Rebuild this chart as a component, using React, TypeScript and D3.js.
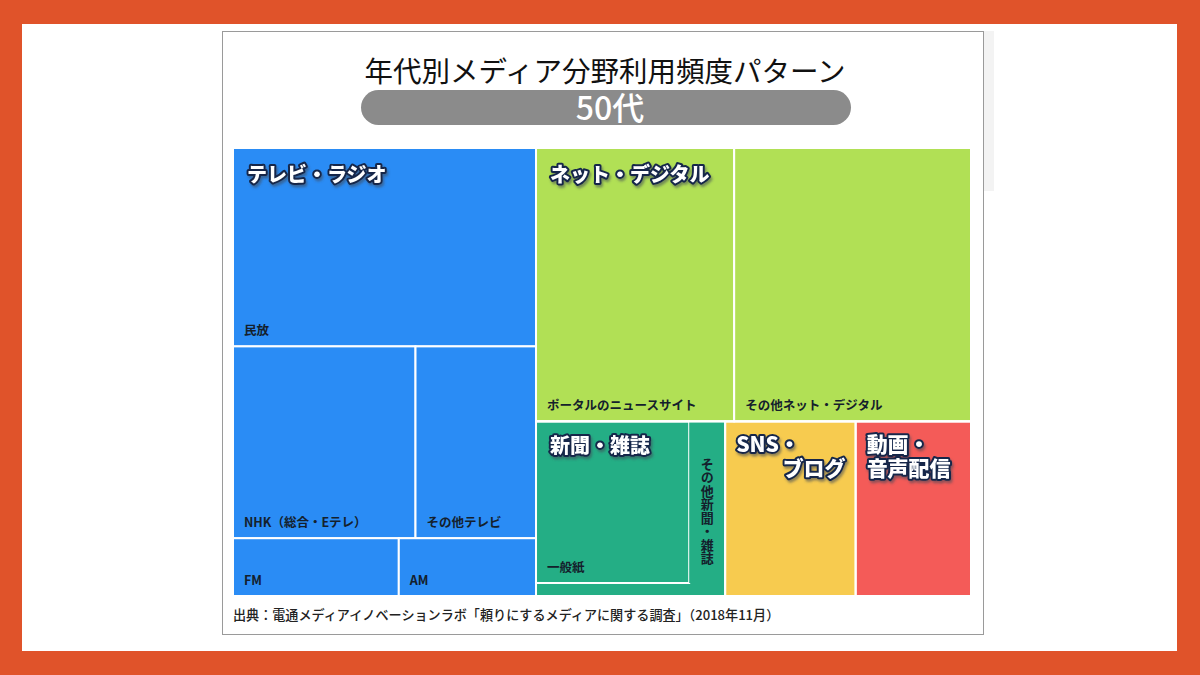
import React from "react";
import * as d3 from "d3";

// ---- data ----
const categories = ["テレビ・ラジオ", "ネット・デジタル", "新聞・雑誌", "SNS・ブログ", "動画・音声配信"];
const categoryLines = [["テレビ・ラジオ"], ["ネット・デジタル"], ["新聞・雑誌"], ["SNS・", "ブログ"], ["動画・", "音声配信"]];
const tvItems = ["民放", "NHK（総合・Eテレ）", "その他テレビ", "FM", "AM"];
const tvValues = [18.2, 10.6, 7.0, 2.9, 2.4];
const tvRows = [[0], [1, 2], [3, 4]];
const netItems = ["ポータルのニュースサイト", "その他ネット・デジタル"];
const netValues = [16.4, 19.6];
const pressItems = ["一般紙", "その他新聞・雑誌"];
const pressValues = [8.1, 1.9];
const snsValue = 6.9;
const videoValue = 6.1;

const titleText = "年代別メディア分野利用頻度パターン";
const subtitleText = "50代";
const sourceText = "出典：電通メディアイノベーションラボ「頼りにするメディアに関する調査」（2018年11月）";

// ---- styles ----
const palette = ["#2a8cf5", "#b1e055", "#24ae85", "#f7cb4f", "#f45b58"];
const JP = "'Noto Sans CJK JP', 'Noto Sans', sans-serif";

const W = 1200, H = 675;
const TM = { x: 233, y: 148, w: 738, h: 448 };

function buildTree() {
  return {
    name: "root",
    children: [
      {
        name: categories[0], cat: 0, dir: "slice",
        children: tvRows.map((row, i) => ({
          name: "tv-row-" + i, cat: 0, dir: "dice",
          children: row.map((j) => ({ name: tvItems[j], cat: 0, value: tvValues[j] })),
        })),
      },
      {
        name: categories[1], cat: 1, dir: "dice",
        children: netItems.map((n, i) => ({ name: n, cat: 1, value: netValues[i] })),
      },
      {
        name: categories[2], cat: 2, dir: "dice",
        children: pressItems.map((n, i) => ({ name: n, cat: 2, value: pressValues[i] })),
      },
      { name: categories[3], cat: 3, value: snsValue },
      { name: categories[4], cat: 4, value: videoValue },
    ],
  };
}

function tile(node: any, x0: number, y0: number, x1: number, y1: number) {
  if (node.depth === 0) d3.treemapSquarify.ratio(1)(node, x0, y0, x1, y1);
  else if (node.data.dir === "slice") d3.treemapSlice(node, x0, y0, x1, y1);
  else d3.treemapDice(node, x0, y0, x1, y1);
}

const verticalLabel = pressItems[1];

function CatLabel({ x, y, text, anchor, size }: any) {
  return (
    <text
      x={x}
      y={y}
      fontFamily={JP}
      fontWeight={900}
      fontSize={size}
      textAnchor={anchor}
      fill="#ffffff"
      stroke="#13264a"
      strokeWidth={4}
      strokeLinejoin="round"
      filter="url(#catShadow)"
      style={{ paintOrder: "stroke" }}
    >
      {text}
    </text>
  );
}

export default function App() {
  const root = d3
    .hierarchy(buildTree() as any)
    .sum((d: any) => d.value || 0);
  d3.treemap()
    .size([TM.w, TM.h])
    .tile(tile as any)
    .paddingBottom((d: any) => (d.data.name === categories[2] ? 13 : 0))(root as any);

  const tops = (root.children || []) as any[];
  const leaves = root.leaves().filter((d: any) => d.depth >= 2) as any[];

  return (
    <svg width={W} height={H} style={{ position: "absolute", left: 0, top: 0 }}>
      <defs>
        <filter id="catShadow" x="-10%" y="-30%" width="130%" height="170%">
          <feDropShadow dx={1.5} dy={2.5} stdDeviation={0.8} floodColor="#3d4a57" floodOpacity={0.55} />
        </filter>
      </defs>
      <rect x={0} y={0} width={W} height={H} fill="#e0532a" />
      <rect x={22} y={24} width={1155} height={627} fill="#ffffff" />
      <rect x={984} y={31} width={10} height={160} fill="#f3f3f3" />
      <rect x={222.5} y={31.5} width={761} height={603} fill="#ffffff" stroke="#9a9a9a" strokeWidth={1} />

      <text x={605} y={82} textAnchor="middle" fontFamily={JP} fontWeight={400} fontSize={28.5} fill="#111">
        {titleText}
      </text>
      <rect x={361} y={90} width={490} height={35} rx={17.5} fill="#8b8b8b" />
      <text x={610} y={119.5} textAnchor="middle" fontFamily={JP} fontWeight={500} fontSize={32} fill="#ffffff">
        {subtitleText}
      </text>

      <g transform={`translate(${TM.x},${TM.y})`}>
        {tops.map((d, i) => (
          <rect key={"f" + i} x={d.x0} y={d.y0} width={d.x1 - d.x0} height={d.y1 - d.y0} fill={palette[d.data.cat]} />
        ))}
        {leaves.map((d, i) => (
          <rect
            key={"l" + i}
            x={d.x0}
            y={d.y0}
            width={d.x1 - d.x0}
            height={d.y1 - d.y0}
            fill={palette[d.data.cat]}
            stroke={d.data.name === verticalLabel ? "none" : "#ffffff"}
            strokeWidth={2}
          />
        ))}
        {tops.map((d, i) => (
          <rect key={"s" + i} x={d.x0} y={d.y0} width={d.x1 - d.x0} height={d.y1 - d.y0} fill="none" stroke="#ffffff" strokeWidth={2} />
        ))}

        {leaves
          .filter((d) => d.data.name !== verticalLabel)
          .map((d, i) => (
            <text key={"t" + i} x={d.x0 + 11} y={d.y1 - 11} fontFamily={JP} fontWeight={700} fontSize={12.5} fill="#14202c">
              {d.data.name}
            </text>
          ))}
        {leaves
          .filter((d) => d.data.name === verticalLabel)
          .map((d, i) => (
            <text
              key={"v" + i}
              x={(d.x0 + d.x1) / 2}
              y={d.y0 + 36}
              fontFamily={JP}
              fontWeight={700}
              fontSize={13}
              letterSpacing={0.5}
              fill="#14202c"
              style={{ writingMode: "vertical-rl" }}
            >
              {d.data.name}
            </text>
          ))}

        {tops.map((d, i) => {
          const lines = categoryLines[d.data.cat];
          const multi = lines.length > 1;
          return lines.map((ln, k) => {
            const rightAlign = d.data.cat === 3 && k === 1;
            return (
              <CatLabel
                key={"c" + i + "-" + k}
                x={rightAlign ? d.x1 - 10 : d.x0 + (multi ? 11 : 14)}
                y={multi ? d.y0 + 31 + k * 24 : d.y0 + (d.data.cat === 2 ? 32 : 34)}
                anchor={rightAlign ? "end" : "start"}
                text={ln}
                size={multi ? 21 : 20}
              />
            );
          });
        })}
      </g>

      <text x={233} y={620} fontFamily={JP} fontWeight={500} fontSize={13.1} fill="#222">
        {sourceText}
      </text>
    </svg>
  );
}
